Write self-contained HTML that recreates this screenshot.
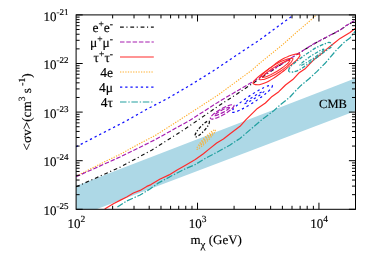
<!DOCTYPE html>
<html><head><meta charset="utf-8"><title>plot</title>
<style>html,body{margin:0;padding:0;background:#fff;}svg{display:block}text{text-rendering:geometricPrecision;stroke:#000;stroke-width:0.15px;font-family:"Liberation Serif",serif;fill:#000}</style>
</head><body>
<svg width="374" height="262" viewBox="0 0 374 262">
<rect width="374" height="262" fill="#fff"/>
<polygon points="76.1,185.9 355.5,78.2 355.5,111 96.5,209.3 76.1,209.3" fill="#add8e6"/>
<g fill="none" stroke-width="1.3" stroke-linecap="butt" stroke-linejoin="round">
<polyline points="76.1,146.8 98.7,135.1 125.0,121.6 146.7,109.3 167.7,98.4 190.4,85.1 213.1,71.0 216.7,68.6 236.7,55.1 260.0,39.7 271.3,31.3 283.4,22.4 293.6,15.0" stroke="#1010ff" stroke-width="1.25" stroke-dasharray="2.3,2.9"/>
<polyline points="76.1,176.2 105.0,161.6 120.0,154.4 140.0,143.4 155.0,135.6 180.0,119.7 218.1,95.0 252.1,70.0 260.0,63.0 282.5,44.8 296.7,32.1 310.1,20.7 316.3,15.0" stroke="#ffad2a" stroke-width="1.1" stroke-dasharray="1.3,1.32"/>
<polyline points="76.1,186.8 120.0,167.2 152.0,150.0 186.0,128.3 220.0,104.9 240.0,92.0 252.8,83.3 265.5,75.0 280.0,65.2 300.0,52.6 313.4,44.2 326.7,37.2 340.1,30.2 346.4,25.6 355.5,20.4" stroke="#111" stroke-width="1.15" stroke-dasharray="3.8,2.6,1.1,2.8"/>
<polyline points="76.1,176.7 120.0,157.0 155.0,139.8 190.0,120.2 220.0,101.0 253.4,81.4 280.0,65.0 300.0,52.4 313.4,44.0 326.7,37.0 340.1,30.0 346.4,25.4 355.5,20.2" stroke="#a61cb0" stroke-width="1.15" stroke-dasharray="4.5,1.8"/>
<polyline points="104.7,209.1 113.4,203.7 120.0,200.4 126.7,197.0 133.4,193.0 140.1,190.4 146.8,186.4 151.0,184.6 159.7,179.2 169.1,174.9 177.1,169.9 185.1,165.4 195.3,159.6 203.4,153.7 210.0,148.4 216.7,143.0 223.4,139.0 230.1,133.7 240.0,126.3 246.0,119.6 253.4,112.4 257.4,108.4 265.4,103.0 272.1,96.4 278.8,91.7 285.5,85.0 292.8,79.6 298.8,73.1 305.5,68.4 310.0,63.7 314.0,59.6 320.0,55.1 326.7,49.1 333.4,43.7 340.1,38.4 350.0,32.4 355.5,28.2" stroke="#ff2a2a" stroke-width="1.2"/>
<polyline points="117.4,207.1 126.7,201.0 140.1,195.0 150.0,189.0 157.7,183.4 171.7,175.8 185.1,168.9 195.0,164.7 204.0,159.1 216.7,152.4 230.1,145.0 240.0,138.4 263.4,118.4 273.4,111.1 280.1,105.0 290.0,97.0 294.4,92.1 301.0,85.4 309.1,78.7 317.1,71.4 325.1,63.3 329.1,58.7 336.1,50.4 344.1,42.4 350.0,37.9 355.5,30.9" stroke="#22a0a0" stroke-width="1.25" stroke-dasharray="6.5,1.8,1.4,1.7"/>
<path d="M253.00,82.60C253.15,82.07 253.58,81.50 254.40,80.60C255.22,79.70 256.48,78.43 257.90,77.20C259.32,75.97 261.25,74.47 262.90,73.20C264.55,71.93 266.13,70.82 267.80,69.60C269.47,68.38 271.45,67.00 272.90,65.90C274.35,64.80 275.22,63.95 276.50,63.00C277.78,62.05 279.27,61.03 280.60,60.20C281.93,59.37 283.23,58.63 284.50,58.00C285.77,57.37 286.95,56.90 288.20,56.40C289.45,55.90 290.73,55.38 292.00,55.00C293.27,54.62 294.70,54.28 295.80,54.10C296.90,53.92 297.90,53.75 298.60,53.90C299.30,54.05 299.95,54.42 300.00,55.00C300.05,55.58 299.60,56.40 298.90,57.40C298.20,58.40 296.95,59.87 295.80,61.00C294.65,62.13 293.27,63.18 292.00,64.20C290.73,65.22 289.45,66.08 288.20,67.10C286.95,68.12 285.77,69.28 284.50,70.30C283.23,71.32 281.93,72.22 280.60,73.20C279.27,74.18 277.78,75.30 276.50,76.20C275.22,77.10 274.15,77.82 272.90,78.60C271.65,79.38 270.27,80.20 269.00,80.90C267.73,81.60 266.93,82.17 265.30,82.80C263.67,83.43 260.83,84.40 259.20,84.70C257.57,85.00 256.45,84.75 255.50,84.60C254.55,84.45 253.92,84.13 253.50,83.80C253.08,83.47 252.85,83.13 253.00,82.60Z" stroke="#ff2a2a" stroke-width="1.1"/>
<path d="M259.60,79.40C259.27,78.86 260.41,77.16 260.96,76.27C261.51,75.38 262.22,74.75 262.89,74.05C263.56,73.35 264.26,72.70 264.96,72.06C265.67,71.43 266.40,70.82 267.13,70.23C267.86,69.63 268.61,69.06 269.37,68.50C270.13,67.95 270.89,67.41 271.67,66.88C272.45,66.35 273.23,65.85 274.03,65.35C274.82,64.85 275.63,64.37 276.44,63.91C277.25,63.44 278.08,62.99 278.91,62.56C279.75,62.13 280.59,61.71 281.44,61.31C282.30,60.91 283.17,60.53 284.05,60.18C284.93,59.82 285.82,59.48 286.75,59.19C287.67,58.90 288.55,58.54 289.59,58.44C290.63,58.34 292.67,58.06 293.00,58.60C293.33,59.14 292.15,60.78 291.59,61.66C291.03,62.53 290.31,63.15 289.64,63.84C288.97,64.53 288.26,65.17 287.55,65.80C286.84,66.43 286.11,67.04 285.38,67.62C284.64,68.21 283.89,68.78 283.13,69.34C282.37,69.89 281.60,70.43 280.83,70.95C280.05,71.48 279.26,71.99 278.47,72.48C277.67,72.98 276.87,73.46 276.06,73.92C275.24,74.39 274.42,74.84 273.59,75.28C272.76,75.71 271.92,76.14 271.06,76.54C270.21,76.94 269.35,77.33 268.47,77.69C267.59,78.05 266.70,78.40 265.78,78.70C264.87,79.00 263.99,79.37 262.96,79.48C261.93,79.60 259.93,79.94 259.60,79.40Z" stroke="#ff2a2a" stroke-width="1.05"/>
<path d="M262.50,77.40C262.29,77.07 263.56,75.69 264.17,74.98C264.79,74.27 265.51,73.72 266.20,73.13C266.89,72.54 267.60,71.98 268.31,71.43C269.03,70.88 269.76,70.35 270.49,69.83C271.22,69.31 271.97,68.80 272.72,68.31C273.47,67.81 274.22,67.33 274.99,66.86C275.75,66.39 276.52,65.93 277.30,65.48C278.08,65.03 278.86,64.59 279.66,64.16C280.45,63.74 281.25,63.33 282.06,62.93C282.88,62.54 283.69,62.15 284.53,61.80C285.37,61.45 286.18,61.05 287.09,60.81C288.00,60.58 289.79,60.07 290.00,60.40C290.21,60.73 288.94,62.11 288.33,62.82C287.71,63.53 286.99,64.08 286.30,64.67C285.61,65.26 284.90,65.82 284.19,66.37C283.47,66.92 282.74,67.45 282.01,67.97C281.28,68.49 280.53,69.00 279.78,69.49C279.03,69.99 278.28,70.47 277.51,70.94C276.75,71.41 275.98,71.87 275.20,72.32C274.42,72.77 273.64,73.21 272.84,73.64C272.05,74.06 271.25,74.47 270.44,74.87C269.62,75.26 268.81,75.65 267.97,76.00C267.13,76.35 266.32,76.75 265.41,76.99C264.50,77.22 262.71,77.73 262.50,77.40Z" stroke="#ff2a2a" stroke-width="1.05"/>
<ellipse cx="252.1" cy="98.8" rx="24.2" ry="3.8" transform="rotate(-33.3 252.1 98.8)" stroke="#1010ff" stroke-width="1.2" stroke-dasharray="2.3,2.9"/>
<ellipse cx="254.2" cy="97.4" rx="11.5" ry="1.1" transform="rotate(-32.0 254.2 97.4)" stroke="#1010ff" stroke-width="1.2" stroke-dasharray="2.3,2.9"/>
<ellipse cx="222.2" cy="111.9" rx="13.5" ry="3.1" transform="rotate(-29.5 222.2 111.9)" stroke="#a61cb0" stroke-width="1.2" stroke-dasharray="4.5,1.8"/>
<ellipse cx="222.0" cy="111.5" rx="8.5" ry="1.3" transform="rotate(-28.1 222.0 111.5)" stroke="#a61cb0" stroke-width="1.2" stroke-dasharray="4.5,1.8"/>
<ellipse cx="202.2" cy="128.9" rx="10.4" ry="2.6" transform="rotate(-47.7 202.2 128.9)" stroke="#111" stroke-width="1.3" stroke-dasharray="3,1.8,1.2,1.8"/>
<ellipse cx="206.0" cy="139.5" rx="13.3" ry="2.1" transform="rotate(-46.2 206.0 139.5)" stroke="#ffad2a" stroke-width="1.1" stroke-dasharray="1.3,1.32"/>
<ellipse cx="206.0" cy="139.4" rx="9.3" ry="0.7" transform="rotate(-45.4 206.0 139.4)" stroke="#ffad2a" stroke-width="1.05" stroke-dasharray="1.3,1.32"/>
<path d="M288.60,70.60C288.68,69.75 289.20,68.27 290.30,66.90C291.40,65.53 293.63,63.73 295.20,62.40C296.77,61.07 298.15,60.08 299.70,58.90C301.25,57.72 302.87,56.45 304.50,55.30C306.13,54.15 307.83,53.12 309.50,52.00C311.17,50.88 312.75,49.63 314.50,48.60C316.25,47.57 318.18,46.63 320.00,45.80C321.82,44.97 323.90,44.17 325.40,43.60C326.90,43.03 327.97,42.40 329.00,42.40C330.03,42.40 331.13,42.95 331.60,43.60C332.07,44.25 332.23,45.47 331.80,46.30C331.37,47.13 330.22,47.68 329.00,48.60C327.78,49.52 326.08,50.63 324.50,51.80C322.92,52.97 321.25,54.30 319.50,55.60C317.75,56.90 315.83,58.27 314.00,59.60C312.17,60.93 310.25,62.33 308.50,63.60C306.75,64.87 305.18,66.10 303.50,67.20C301.82,68.30 300.15,69.40 298.40,70.20C296.65,71.00 294.43,71.70 293.00,72.00C291.57,72.30 290.53,72.23 289.80,72.00C289.07,71.77 288.52,71.45 288.60,70.60Z" stroke="#22a0a0" stroke-width="1.3" stroke-dasharray="3.6,1.6,1.3,1.6"/>
<ellipse cx="311.9" cy="57.4" rx="14.5" ry="1.6" transform="rotate(-34.1 311.9 57.4)" stroke="#22a0a0" stroke-width="1.2" stroke-dasharray="3.6,1.6,1.3,1.6"/>
<polyline points="120.0,27.1 153.8,27.1" stroke="#111" stroke-width="1.15" stroke-dasharray="3.8,2.6,1.1,2.8"/>
<polyline points="120.0,42.0 153.8,42.0" stroke="#a61cb0" stroke-width="1.15" stroke-dasharray="4.5,1.8"/>
<polyline points="120.0,57.0 153.8,57.0" stroke="#ff2a2a" stroke-width="1.15"/>
<polyline points="120.0,72.0 153.8,72.0" stroke="#ffad2a" stroke-width="1.15" stroke-dasharray="1.3,1.32"/>
<polyline points="120.0,87.1 153.8,87.1" stroke="#1010ff" stroke-width="1.15" stroke-dasharray="2.3,2.9"/>
<polyline points="120.0,102.0 153.8,102.0" stroke="#22a0a0" stroke-width="1.15" stroke-dasharray="6.5,1.8,1.4,1.7"/>
</g>
<g stroke="#000" stroke-width="1" fill="none"><rect x="76.1" y="14.9" width="279.4" height="194.4"/>
<path d="M112.65,209.3v-3.5M112.65,14.9v3.5"/>
<path d="M134.03,209.3v-3.5M134.03,14.9v3.5"/>
<path d="M149.20,209.3v-3.5M149.20,14.9v3.5"/>
<path d="M160.97,209.3v-3.5M160.97,14.9v3.5"/>
<path d="M170.59,209.3v-3.5M170.59,14.9v3.5"/>
<path d="M178.72,209.3v-3.5M178.72,14.9v3.5"/>
<path d="M185.76,209.3v-3.5M185.76,14.9v3.5"/>
<path d="M191.97,209.3v-3.5M191.97,14.9v3.5"/>
<path d="M197.52,209.3v-6.6M197.52,14.9v6.6"/>
<path d="M234.08,209.3v-3.5M234.08,14.9v3.5"/>
<path d="M255.46,209.3v-3.5M255.46,14.9v3.5"/>
<path d="M270.63,209.3v-3.5M270.63,14.9v3.5"/>
<path d="M282.40,209.3v-3.5M282.40,14.9v3.5"/>
<path d="M292.01,209.3v-3.5M292.01,14.9v3.5"/>
<path d="M300.14,209.3v-3.5M300.14,14.9v3.5"/>
<path d="M307.18,209.3v-3.5M307.18,14.9v3.5"/>
<path d="M313.39,209.3v-3.5M313.39,14.9v3.5"/>
<path d="M318.95,209.3v-6.6M318.95,14.9v6.6"/>
<path d="M76.1,209.30h6.6M355.5,209.30h-6.6"/>
<path d="M76.1,194.67h3.5M355.5,194.67h-3.5"/>
<path d="M76.1,186.11h3.5M355.5,186.11h-3.5"/>
<path d="M76.1,180.04h3.5M355.5,180.04h-3.5"/>
<path d="M76.1,175.33h3.5M355.5,175.33h-3.5"/>
<path d="M76.1,171.48h3.5M355.5,171.48h-3.5"/>
<path d="M76.1,168.23h3.5M355.5,168.23h-3.5"/>
<path d="M76.1,165.41h3.5M355.5,165.41h-3.5"/>
<path d="M76.1,162.92h3.5M355.5,162.92h-3.5"/>
<path d="M76.1,160.70h6.6M355.5,160.70h-6.6"/>
<path d="M76.1,146.07h3.5M355.5,146.07h-3.5"/>
<path d="M76.1,137.51h3.5M355.5,137.51h-3.5"/>
<path d="M76.1,131.44h3.5M355.5,131.44h-3.5"/>
<path d="M76.1,126.73h3.5M355.5,126.73h-3.5"/>
<path d="M76.1,122.88h3.5M355.5,122.88h-3.5"/>
<path d="M76.1,119.63h3.5M355.5,119.63h-3.5"/>
<path d="M76.1,116.81h3.5M355.5,116.81h-3.5"/>
<path d="M76.1,114.32h3.5M355.5,114.32h-3.5"/>
<path d="M76.1,112.10h6.6M355.5,112.10h-6.6"/>
<path d="M76.1,97.47h3.5M355.5,97.47h-3.5"/>
<path d="M76.1,88.91h3.5M355.5,88.91h-3.5"/>
<path d="M76.1,82.84h3.5M355.5,82.84h-3.5"/>
<path d="M76.1,78.13h3.5M355.5,78.13h-3.5"/>
<path d="M76.1,74.28h3.5M355.5,74.28h-3.5"/>
<path d="M76.1,71.03h3.5M355.5,71.03h-3.5"/>
<path d="M76.1,68.21h3.5M355.5,68.21h-3.5"/>
<path d="M76.1,65.72h3.5M355.5,65.72h-3.5"/>
<path d="M76.1,63.50h6.6M355.5,63.50h-6.6"/>
<path d="M76.1,48.87h3.5M355.5,48.87h-3.5"/>
<path d="M76.1,40.31h3.5M355.5,40.31h-3.5"/>
<path d="M76.1,34.24h3.5M355.5,34.24h-3.5"/>
<path d="M76.1,29.53h3.5M355.5,29.53h-3.5"/>
<path d="M76.1,25.68h3.5M355.5,25.68h-3.5"/>
<path d="M76.1,22.43h3.5M355.5,22.43h-3.5"/>
<path d="M76.1,19.61h3.5M355.5,19.61h-3.5"/>
<path d="M76.1,17.12h3.5M355.5,17.12h-3.5"/>
<path d="M76.1,14.90h6.6M355.5,14.90h-6.6"/>
</g>
<text x="68.5" y="20.5" text-anchor="end" font-size="13">10<tspan dy="-6" font-size="9">-21</tspan></text>
<text x="68.5" y="69.1" text-anchor="end" font-size="13">10<tspan dy="-6" font-size="9">-22</tspan></text>
<text x="68.5" y="117.7" text-anchor="end" font-size="13">10<tspan dy="-6" font-size="9">-23</tspan></text>
<text x="68.5" y="166.3" text-anchor="end" font-size="13">10<tspan dy="-6" font-size="9">-24</tspan></text>
<text x="68.5" y="214.9" text-anchor="end" font-size="13">10<tspan dy="-6" font-size="9">-25</tspan></text>
<text x="76.3" y="227.6" text-anchor="middle" font-size="13">10<tspan dy="-6" font-size="9.5">2</tspan></text>
<text x="197.7" y="227.6" text-anchor="middle" font-size="13">10<tspan dy="-6" font-size="9.5">3</tspan></text>
<text x="319.1" y="227.6" text-anchor="middle" font-size="13">10<tspan dy="-6" font-size="9.5">4</tspan></text>
<text x="113" y="32.0" text-anchor="end" font-size="13.5">e<tspan dy="-5" font-size="9.5">+</tspan><tspan dy="5">e</tspan><tspan dy="-5" font-size="9.5">-</tspan></text>
<text x="113" y="47.0" text-anchor="end" font-size="13.5">μ<tspan dy="-5" font-size="9.5">+</tspan><tspan dy="5">μ</tspan><tspan dy="-5" font-size="9.5">-</tspan></text>
<text x="113" y="62.0" text-anchor="end" font-size="13.5">τ<tspan dy="-5" font-size="9.5">+</tspan><tspan dy="5">τ</tspan><tspan dy="-5" font-size="9.5">-</tspan></text>
<text x="113" y="77.0" text-anchor="end" font-size="13.5">4e</text>
<text x="113" y="92.1" text-anchor="end" font-size="13.5">4μ</text>
<text x="113" y="107.0" text-anchor="end" font-size="13.5">4τ</text>
<text x="333" y="107.7" text-anchor="middle" font-size="12.5">CMB</text>
<text x="216.2" y="244" text-anchor="middle" font-size="13">m<tspan dy="4" font-size="11">χ</tspan><tspan dy="-4"> (GeV)</tspan></text>
<text transform="translate(31,111.9) rotate(-90)" text-anchor="middle" font-size="13.2">&lt;σv&gt;(cm<tspan dy="-6.5" font-size="9.5">3</tspan><tspan dy="6.5"> s</tspan><tspan dy="-6.5" font-size="9.5"> -1</tspan><tspan dy="6.5">)</tspan></text>
</svg></body></html>
